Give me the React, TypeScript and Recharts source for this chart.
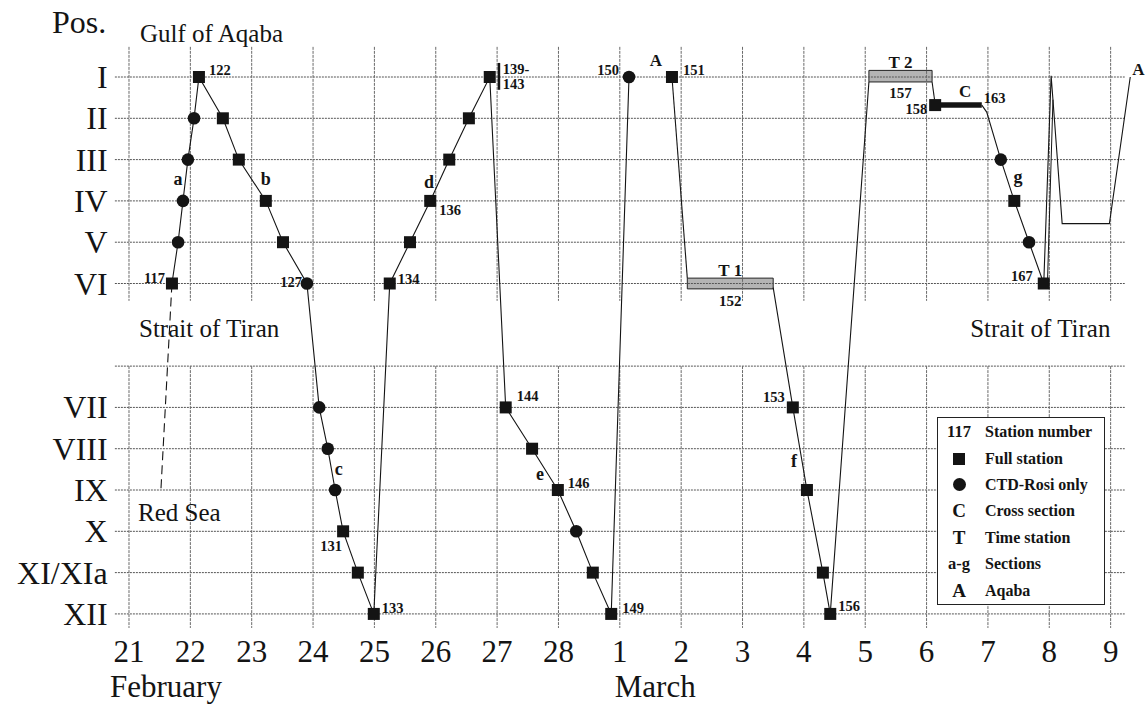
import React from "react";
import { ComposedChart, XAxis, YAxis, Scatter, ReferenceLine, ReferenceArea, Legend } from "recharts";

const SERIF = '"Liberation Serif", "Times New Roman", serif';
const INK = "#141414";

// x = days after 21 February, y = position index (I = 1 ... VI = 6, 7/8 = Strait gap, VII = 9 ... XII = 14)
const dayTicks = [0, 1, 2, 3, 4, 5, 6, 7, 8, 9, 10, 11, 12, 13, 14, 15, 16];
const dayLabels = ["21", "22", "23", "24", "25", "26", "27", "28", "1", "2", "3", "4", "5", "6", "7", "8", "9"];
const posTicks = [1, 2, 3, 4, 5, 6, 9, 10, 11, 12, 13, 14];
const posLabels = ["I", "II", "III", "IV", "V", "VI", "VII", "VIII", "IX", "X", "XI/XIa", "XII"];
const gridRows = [1, 2, 3, 4, 5, 6, 8, 9, 10, 11, 12, 13, 14];

type Pt = [number, number];

// ship track, split where it is interrupted
const trackFeb: Pt[] = [
  [0.7, 6], [0.8, 5], [0.88, 4], [0.96, 3], [1.06, 2], [1.14, 1], [1.53, 2], [1.79, 3], [2.23, 4], [2.51, 5],
  [2.9, 6], [3.1, 9], [3.24, 10], [3.36, 11], [3.49, 12], [3.73, 13], [3.99, 14], [4.25, 6], [4.58, 5], [4.91, 4],
  [5.22, 3], [5.54, 2], [5.88, 1], [6.14, 9], [6.57, 10], [6.99, 11], [7.29, 12], [7.56, 13], [7.86, 14], [8.15, 1],
];
const trackToT1: Pt[] = [[8.85, 1], [9.1, 5.87]];
const trackT1toT2: Pt[] = [[10.5, 6.1], [10.82, 9], [11.05, 11], [11.31, 13], [11.43, 14], [12.06, 1.12]];
const trackT2toC: Pt[] = [[13.09, 1.12], [13.13, 1.55]];
const crossSection: Pt[] = [[13.14, 1.68], [13.9, 1.68]];
const trackToAqaba: Pt[] = [
  [13.9, 1.68], [13.98, 1.85], [14.21, 3], [14.43, 4], [14.67, 5], [14.91, 6], [15.03, 0.97], [15.06, 1.55],
  [15.21, 4.55], [15.98, 4.55], [16.32, 1.0],
];
const trackReturn: Pt[] = [[14.97, 6], [15.06, 1.55]];
const redSeaLink: Pt[] = [[0.7, 6], [0.52, 11]];

const fullStations: Pt[] = [
  [0.7, 6], [1.14, 1], [1.53, 2], [1.79, 3], [2.23, 4], [2.51, 5], [3.49, 12], [3.73, 13], [3.99, 14], [4.25, 6],
  [4.58, 5], [4.91, 4], [5.22, 3], [5.54, 2], [5.88, 1], [6.14, 9], [6.57, 10], [6.99, 11], [7.56, 13], [7.86, 14],
  [8.85, 1], [10.82, 9], [11.05, 11], [11.31, 13], [11.43, 14], [13.14, 1.68], [14.43, 4], [14.91, 6],
];
const ctdStations: Pt[] = [
  [0.8, 5], [0.88, 4], [0.96, 3], [1.06, 2], [2.9, 6], [3.1, 9], [3.24, 10], [3.36, 11], [7.29, 12], [8.15, 1],
  [14.21, 3], [14.67, 5],
];

// time stations: name, station, start day, end day, position span
const timeStations = [
  { t: "T 1", n: "152", d1: 9.1, d2: 10.5, p1: 5.87, p2: 6.13 },
  { t: "T 2", n: "157", d1: 12.06, d2: 13.09, p1: 0.84, p2: 1.12 },
];

const stationNumbers = [
  { t: "117", d: 0.7, p: 6 }, { t: "122", d: 1.14, p: 1 }, { t: "127", d: 2.9, p: 6 }, { t: "131", d: 3.49, p: 12 },
  { t: "133", d: 3.99, p: 14 }, { t: "134", d: 4.25, p: 6 }, { t: "136", d: 4.91, p: 4 }, { t: "139-", d: 5.88, p: 1 },
  { t: "143", d: 5.88, p: 1 }, { t: "144", d: 6.14, p: 9 }, { t: "146", d: 6.99, p: 11 }, { t: "149", d: 7.86, p: 14 },
  { t: "150", d: 8.15, p: 1 }, { t: "151", d: 8.85, p: 1 }, { t: "153", d: 10.82, p: 9 }, { t: "156", d: 11.43, p: 14 },
  { t: "158", d: 13.14, p: 1.68 }, { t: "163", d: 13.9, p: 1.68 }, { t: "167", d: 14.91, p: 6 },
  { t: "A", d: 8.59, p: 1 }, { t: "A", d: 16.32, p: 1 }, { t: "C", d: 13.63, p: 1.68 },
];

const sectionLetters = [
  { t: "a", d: 0.8, p: 3.615 }, { t: "b", d: 2.23, p: 3.615 }, { t: "c", d: 3.42, p: 10.64 }, { t: "d", d: 4.89, p: 3.69 },
  { t: "e", d: 6.7, p: 10.76 }, { t: "f", d: 10.84, p: 10.44 }, { t: "g", d: 14.49, p: 3.57 },
];

const regionNames = [
  { t: "Gulf of Aqaba", d: 0.18, p: 0.153 },
  { t: "Strait of Tiran", d: 0.163, p: 7.295 },
  { t: "Strait of Tiran", d: 13.71, p: 7.295 },
  { t: "Red Sea", d: 0.147, p: 11.75 },
];

const legendRows = [
  ["117", "Station number"],
  ["square", "Full station"],
  ["circle", "CTD-Rosi only"],
  ["C", "Cross section"],
  ["T", "Time station"],
  ["a-g", "Sections"],
  ["A", "Aqaba"],
];

// label placement relative to its station marker (px)
const labelPlace: Record<string, [number, number, "start" | "end" | "middle"]> = {
  "117": [-7, -1, "end"], "122": [10, -2, "start"], "127": [-5, 3, "end"], "131": [-1, 20, "end"],
  "133": [8, -1, "start"], "134": [8, 0, "start"], "136": [9, 14, "start"], "139-": [13, -3, "start"],
  "143": [13, 12, "start"], "144": [11, -6, "start"], "146": [10, -2, "start"], "149": [11, -1, "start"],
  "150": [-10, -2, "end"], "151": [11, -2, "start"], "153": [-8, -5, "end"], "156": [8, -3, "start"],
  "158": [-8, 9, "end"], "163": [2, -2, "start"], "167": [-11, -3, "end"], "C": [0, -8, "middle"],
};

const toPts = (arr: Pt[]) => arr.map(([d, p]) => ({ d, p }));
const noShape = () => <g />;

function track(key: string, pts: Pt[], width = 1.1, dash?: string) {
  return (
    <Scatter
      key={key}
      data={toPts(pts)}
      line={{ stroke: INK, strokeWidth: width, strokeDasharray: dash }}
      lineType="joint"
      shape={noShape}
      isAnimationActive={false}
      legendType="none"
    />
  );
}

function LegendBox() {
  return (
    <div
      style={{
        width: 166,
        height: 185,
        border: "1.5px solid #222",
        background: "#fff",
        fontFamily: SERIF,
        fontWeight: 700,
        fontSize: 16,
        color: INK,
        paddingTop: 1,
        boxSizing: "content-box",
      }}
    >
      {legendRows.map(([sym, text], i) => (
        <div key={i} style={{ display: "flex", alignItems: "center", height: 26.4 }}>
          <div style={{ width: 42, display: "flex", justifyContent: "center", alignItems: "center", fontSize: sym.length === 1 ? 19 : 16.5 }}>
            {sym === "square" ? (
              <div style={{ width: 12, height: 12, background: INK }} />
            ) : sym === "circle" ? (
              <div style={{ width: 13, height: 13, borderRadius: "50%", background: INK }} />
            ) : (
              sym
            )}
          </div>
          <div style={{ marginLeft: 5, whiteSpace: "nowrap" }}>{text}</div>
        </div>
      ))}
    </div>
  );
}

function XTick(props: any) {
  const { x, y, payload } = props;
  const i = dayTicks.indexOf(payload.value);
  return (
    <g>
      <text x={x} y={y + 23} textAnchor="middle" fontFamily={SERIF} fontSize={31} fill={INK}>
        {dayLabels[i]}
      </text>
      {i === 0 && (
        <text x={x - 19} y={y + 58} fontFamily={SERIF} fontSize={31} fill={INK}>
          February
        </text>
      )}
      {i === 8 && (
        <text x={x - 5} y={y + 58} fontFamily={SERIF} fontSize={31} fill={INK}>
          March
        </text>
      )}
    </g>
  );
}

function YTick(props: any) {
  const { x, y, payload } = props;
  const i = posTicks.indexOf(payload.value);
  return (
    <text x={x} y={y + 11} textAnchor="end" fontFamily={SERIF} fontSize={32} fill={INK}>
      {posLabels[i]}
    </text>
  );
}

export default function App() {
  return (
    <div style={{ position: "absolute", left: 0, top: 0, width: 1147, height: 705, background: "#fff" }}>
      <ComposedChart width={1147} height={705} margin={{ top: 35.7, right: 14.9, bottom: 6.3, left: 13.66 }}>
        <XAxis
          type="number"
          dataKey="d"
          domain={[-0.25, 16.35]}
          ticks={dayTicks}
          interval={0}
          axisLine={false}
          tickLine={false}
          tickSize={0}
          tickMargin={0}
          height={60}
          tick={<XTick />}
        />
        <YAxis
          type="number"
          dataKey="p"
          domain={[0, 14.6]}
          reversed
          ticks={posTicks}
          interval={0}
          axisLine={false}
          tickLine={false}
          tickSize={0}
          tickMargin={6}
          width={100}
          tick={<YTick />}
          label={{
            content: () => (
              <text x={52} y={33} fontFamily={SERIF} fontSize={32} fill={INK}>
                Pos.
              </text>
            ),
          }}
        />

        {gridRows.map((p) => (
          <ReferenceLine
            key={"h" + p}
            segment={[{ x: -0.23, y: p }, { x: 16.23, y: p }]}
            stroke="#555"
            strokeWidth={1}
            strokeDasharray="2 1"
          />
        ))}
        {dayTicks.map((d) => (
          <ReferenceLine key={"vt" + d} segment={[{ x: d, y: 0.27 }, { x: d, y: 6.42 }]} stroke="#6a6a6a" strokeWidth={1} strokeDasharray="3 1" />
        ))}
        {dayTicks.map((d) => (
          <ReferenceLine key={"vb" + d} segment={[{ x: d, y: 8 }, { x: d, y: 14.34 }]} stroke="#6a6a6a" strokeWidth={1} strokeDasharray="3 1" />
        ))}

        {track("feb", trackFeb)}
        {track("t1", trackToT1)}
        {track("t1t2", trackT1toT2)}
        {track("t2c", trackT2toC)}
        {track("cross", crossSection, 5.5)}
        {track("aqaba", trackToAqaba)}
        {track("return", trackReturn, 1)}
        {track("redsea", redSeaLink, 1.1, "9 5")}

        {timeStations.map((s) => (
          <ReferenceArea key={s.t} x1={s.d1} x2={s.d2} y1={s.p1} y2={s.p2} fill="#b4b4b4" fillOpacity={1} stroke="#222" strokeWidth={1} />
        ))}
        <ReferenceLine segment={[{ x: 6.03, y: 0.66 }, { x: 6.03, y: 1.31 }]} stroke={INK} strokeWidth={2.5} />

        <Scatter
          data={toPts(fullStations)}
          isAnimationActive={false}
          legendType="none"
          shape={(pr: any) => <rect x={pr.cx - 6} y={pr.cy - 6} width={12} height={12} fill={INK} />}
        />
        <Scatter
          data={toPts(ctdStations)}
          isAnimationActive={false}
          legendType="none"
          shape={(pr: any) => <circle cx={pr.cx} cy={pr.cy} r={6.3} fill={INK} />}
        />

        <Scatter
          data={timeStations.map((s) => ({ d: (s.d1 + s.d2) / 2, p: (s.p1 + s.p2) / 2, t: s.t, n: s.n }))}
          isAnimationActive={false}
          legendType="none"
          shape={(pr: any) => (
            <g fontFamily={SERIF} fontWeight={700} fill={INK} textAnchor="middle">
              <text x={pr.cx} y={pr.cy - 8} fontSize={17}>{pr.payload.t}</text>
              <text x={pr.cx} y={pr.cy + 22} fontSize={15}>{pr.payload.n}</text>
            </g>
          )}
        />
        <Scatter
          data={stationNumbers}
          isAnimationActive={false}
          legendType="none"
          shape={(pr: any) => {
            const t = pr.payload.t;
            const big = t === "A" || t === "C";
            const [dx, dy, anchor] =
              labelPlace[t] ?? (t === "A" && pr.payload.d > 16 ? [2, -2, "start"] : [0, -11, "middle"]);
            return (
              <text x={pr.cx + dx} y={pr.cy + dy} textAnchor={anchor} fontFamily={SERIF} fontWeight={700} fontSize={big ? 17 : 14.5} fill={INK}>
                {t}
              </text>
            );
          }}
        />
        <Scatter
          data={sectionLetters}
          isAnimationActive={false}
          legendType="none"
          shape={(pr: any) => (
            <text x={pr.cx} y={pr.cy} textAnchor="middle" fontFamily={SERIF} fontWeight={700} fontSize={18} fill={INK}>
              {pr.payload.t}
            </text>
          )}
        />
        <Scatter
          data={regionNames}
          isAnimationActive={false}
          legendType="none"
          shape={(pr: any) => (
            <text x={pr.cx} y={pr.cy} fontFamily={SERIF} fontSize={25} fill={INK}>
              {pr.payload.t}
            </text>
          )}
        />

        <Legend
          layout="vertical"
          align="center"
          verticalAlign="middle"
          content={() => <LegendBox />}
          wrapperStyle={{ left: 937, top: 417, width: 170, height: 190 }}
        />
      </ComposedChart>
    </div>
  );
}
